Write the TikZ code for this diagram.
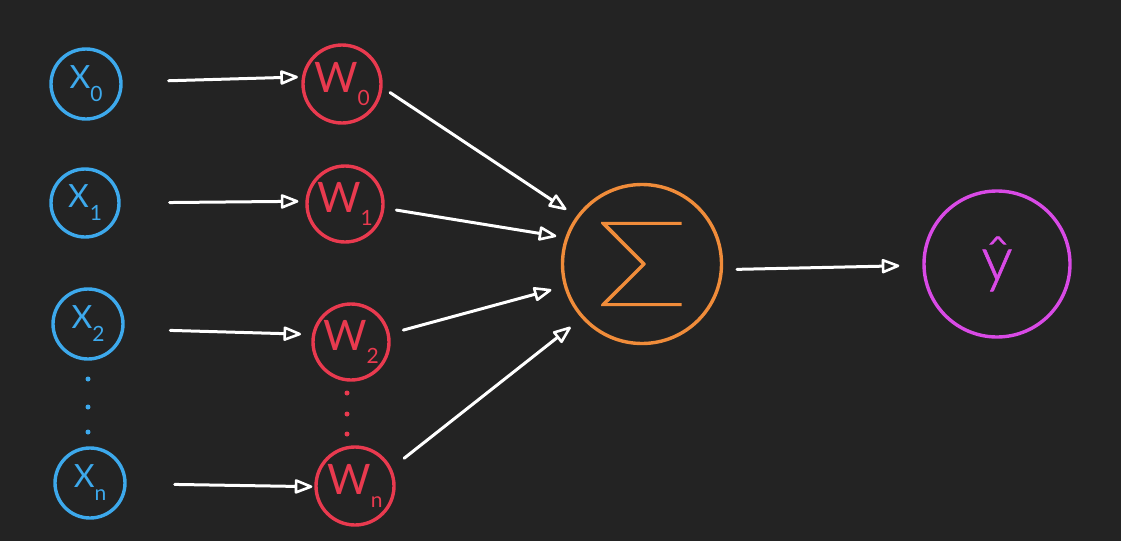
\documentclass[tikz,border=0pt]{standalone}
\usepackage{fontspec}
\setmainfont{Lato}
\newfontfamily\sumfont{Lato Thin}[FakeBold=1.5]
\newfontfamily\lightfont{Lato Light}[FakeBold=1]
\usetikzlibrary{arrows.meta}
\definecolor{bg}{HTML}{232323}
\definecolor{inblue}{HTML}{3DA9EC}
\definecolor{wred}{HTML}{E93A4F}
\definecolor{sumorange}{HTML}{F08C3A}
\definecolor{outmag}{HTML}{D94AE6}
% index set low and close to its letter
\newcommand{\lowidx}[2]{\kern#1\raisebox{-13pt}{\fontsize{21}{21}\selectfont #2}}
\tikzset{
  unit/.style={circle, draw, line width=3.4pt, inner sep=0pt},
  innode/.style={unit, draw=inblue, text=inblue, minimum size=70pt, font=\fontsize{32}{32}\selectfont},
  wnode/.style={unit, draw=wred, text=wred, minimum size=78pt, font=\fontsize{42}{42}\selectfont},
  dot/.style={circle, inner sep=0pt, minimum size=5pt},
  arr/.style={draw=white, line width=3pt, line cap=round,
    -{Triangle[open, length=20pt, width=15pt, line width=2.6pt, round]}},
}
\begin{document}
\begin{tikzpicture}[x=1pt, y=-1pt]
  \fill[bg] (0,0) rectangle (1121,541);
  \useasboundingbox (0,0) rectangle (1121,541);

  % input column
  \node[innode] (x0) at (86,84)  {X\lowidx{0pt}{0}};
  \node[innode, minimum size=68pt] (x1) at (85,203) {X\lowidx{1pt}{1}};
  \node[innode] (x2) at (88,324) {X\lowidx{0pt}{2}};
  \node[innode] (xn) at (90,483) {X\lowidx{0pt}{n}};
  \node[dot, fill=inblue] (xd1) at (88,379) {};
  \node[dot, fill=inblue] (xd2) at (88,407) {};
  \node[dot, fill=inblue] (xd3) at (88,432) {};

  % weight column
  \node[wnode] (w0) at (342,84)  {W\lowidx{0pt}{0}};
  \node[wnode, minimum size=76pt] (w1) at (345,204) {W\lowidx{0pt}{1}};
  \node[wnode, minimum size=76pt] (w2) at (351,342) {W\lowidx{0pt}{2}};
  \node[wnode] (wn) at (355,486) {W\lowidx{0pt}{n}};
  \node[dot, fill=wred] (wd1) at (347,393) {};
  \node[dot, fill=wred] (wd2) at (347,414) {};
  \node[dot, fill=wred] (wd3) at (347,434) {};

  % summation and output
  \node[unit, draw=sumorange, text=sumorange, minimum size=159pt,
        font=\sumfont\fontsize{118}{118}\selectfont] (sum) at (642,264) {\scalebox{1.3}[1]{Σ}};
  \node[unit, draw=outmag, text=outmag, minimum size=146pt,
        font=\lightfont\fontsize{62}{62}\selectfont] (yhat) at (997,264) {ŷ};

  % inputs to weights
  \draw[arr, shorten <=46pt, shorten >=4pt]  (x0.3)    -- (w0.170);
  \draw[arr, shorten <=49pt, shorten >=7pt]  (x1.0)    -- (w1.176);
  \draw[arr, shorten <=46pt, shorten >=11pt] (x2.-8)   -- (w2.169);
  \draw[arr, shorten <=48pt, shorten >=2pt]  (xn.-1)   -- (wn.181);

  % weights to summation
  \draw[arr, shorten <=9pt,  shorten >=12pt] (w0.-5)   -- (sum.144);
  \draw[arr, shorten <=12pt, shorten >=9pt]  (w1.-6)   -- (sum.161);
  \draw[arr, shorten <=14pt, shorten >=13pt] (w2.12)   -- (sum.196);
  \draw[arr, shorten <=16pt, shorten >=14pt] (wn.26)   -- (sum.222);

  % summation to prediction
  \draw[arr, shorten <=14pt, shorten >=23pt] (sum.-4)  -- (yhat.181);
\end{tikzpicture}
\end{document}
